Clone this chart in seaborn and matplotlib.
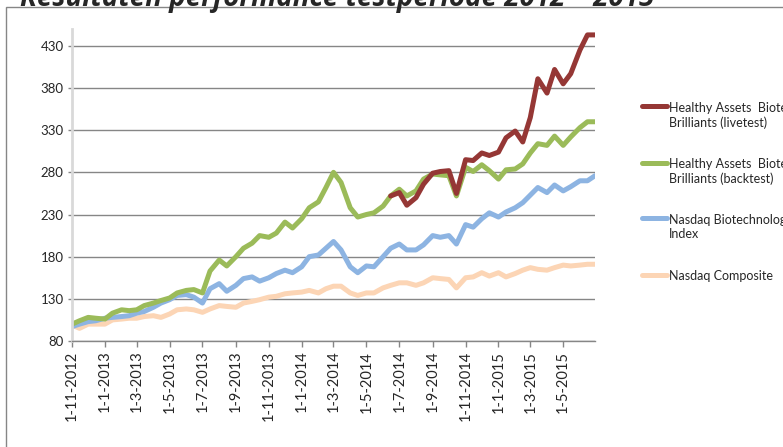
import pandas as pd
import numpy as np
import matplotlib
matplotlib.use("Agg")
import matplotlib.pyplot as plt
import matplotlib.dates as mdates
from matplotlib.ticker import FuncFormatter
from matplotlib.patches import Rectangle
import seaborn as sns

# semi-monthly sample dates, Nov 2012 - end Jun 2015
dates = []
for m in pd.period_range("2012-11", "2015-06", freq="M"):
    dates.append(pd.Timestamp(m.year, m.month, 1))
    dates.append(pd.Timestamp(m.year, m.month, 15))
dates.append(pd.Timestamp(2015, 6, 29))

livetest = [np.nan] * 39 + [
    252, 256, 241, 250, 266, 279, 281, 282, 255, 295,
    294, 303, 300, 304, 321, 329, 316, 345, 391, 374,
    402, 385, 397, 425, 443, 443]

backtest = [
    100, 104, 108, 107, 106, 113, 117, 116, 117, 122,
    125, 128, 131, 137, 140, 141, 137, 163, 176, 169,
    180, 190, 196, 205, 203, 208, 221, 214, 225, 238,
    245, 262, 280, 268, 238, 227, 230, 232, 240, 252,
    260, 252, 258, 272, 278, 277, 276, 252, 286, 281,
    289, 282, 272, 283, 284, 290, 303, 314, 312, 323,
    312, 322, 333, 340, 340]

nbi = [
    97, 100, 103, 104, 107, 108, 109, 110, 113, 115,
    120, 125, 129, 134, 135, 132, 125, 142, 148, 139,
    146, 154, 156, 151, 155, 160, 164, 161, 168, 180,
    182, 190, 198, 188, 168, 161, 169, 168, 180, 190,
    195, 188, 188, 194, 205, 203, 205, 195, 218, 215,
    225, 232, 227, 233, 238, 244, 253, 262, 256, 265,
    258, 263, 270, 270, 276]

composite = [
    99, 95, 100, 100, 100, 105, 106, 107, 107, 109,
    110, 108, 112, 117, 118, 117, 114, 118, 122, 121,
    120, 125, 127, 129, 132, 133, 136, 137, 138, 140,
    137, 142, 145, 145, 137, 134, 137, 137, 143, 146,
    149, 149, 146, 149, 155, 154, 153, 143, 155, 156,
    161, 157, 161, 156, 160, 164, 167, 165, 164, 167,
    170, 169, 170, 171, 171]

names = ["Healthy Assets  Biotech\nBrilliants (livetest)",
         "Healthy Assets  Biotech\nBrilliants (backtest)",
         "Nasdaq Biotechnology\nIndex",
         "Nasdaq Composite"]
colors = ["#953735", "#9BBB59", "#8DB4E2", "#FCD5B5"]

df = pd.DataFrame({"date": dates, names[0]: livetest, names[1]: backtest,
                   names[2]: nbi, names[3]: composite})
long = df.melt(id_vars="date", var_name="serie", value_name="waarde").dropna()

sns.set_style("white")
plt.rcParams["font.family"] = ["Lato", "DejaVu Sans"]

fig = plt.figure(figsize=(7.83, 4.47), dpi=100)
ax = fig.add_axes([72 / 783, 1 - 341 / 447, (595 - 72) / 783, (341 - 29) / 447])

# composite drawn first so the others lie on top
for name, col in list(zip(names, colors))[::-1]:
    sns.lineplot(data=long[long["serie"] == name], x="date", y="waarde",
                 color=col, linewidth=3.6, label=name, ax=ax,
                 solid_capstyle="round")

ax.set_ylim(80, 450)
ax.set_yticks(range(80, 431, 50))
ax.set_xlim(dates[0], dates[-1])
ax.xaxis.set_major_locator(mdates.MonthLocator(bymonth=[1, 3, 5, 7, 9, 11]))
ax.xaxis.set_major_formatter(FuncFormatter(
    lambda v, _: "{0.day}-{0.month}-{0.year}".format(mdates.num2date(v))))
ax.set_xlabel("")
ax.set_ylabel("")
ax.grid(axis="y", color="#868686", linewidth=1)
ax.set_axisbelow(True)
for s in ["top", "right"]:
    ax.spines[s].set_visible(False)
ax.spines["left"].set_color("#D9D9D9")
ax.spines["left"].set_linewidth(2)
ax.spines["bottom"].set_color("#868686")
ax.spines["bottom"].set_linewidth(1)
ax.tick_params(axis="x", rotation=90, labelsize=10.5, length=4, width=1,
               color="#868686", bottom=True, pad=3)
ax.tick_params(axis="y", labelsize=9.5, length=3, width=1,
               color="#868686", left=True, pad=3)
for lbl in ax.get_xticklabels():
    lbl.set_va("top")
    lbl.set_ha("center")

handles, labels = ax.get_legend_handles_labels()
ax.get_legend().remove()
handles, labels = handles[::-1], labels[::-1]
leg = fig.legend(handles, labels, loc="upper left",
                 bbox_to_anchor=(631 / 783, 1 - 91 / 447),
                 frameon=False, fontsize=9, handlelength=2.0,
                 handletextpad=0.15, labelspacing=2.35)
for h, t in zip(leg.legend_handles, leg.get_texts()):
    h.set_linewidth(3.6)
    if "\n" in t.get_text():
        h.set_ydata(np.asarray(h.get_ydata()) + 7)

fig.patches.append(Rectangle((6 / 783, -0.1), 1.2, 1.1 - 7 / 447,
                             transform=fig.transFigure, fill=False,
                             edgecolor="#868686", linewidth=1))

fig.text(0.43, 1 - 6 / 447, "Resultaten performance testperiode 2012 – 2015",
         ha="center", va="baseline", fontsize=20, fontweight="bold",
         fontstyle="italic", family=["Open Sans", "DejaVu Sans"])

fig.savefig("out.png", dpi=100)
